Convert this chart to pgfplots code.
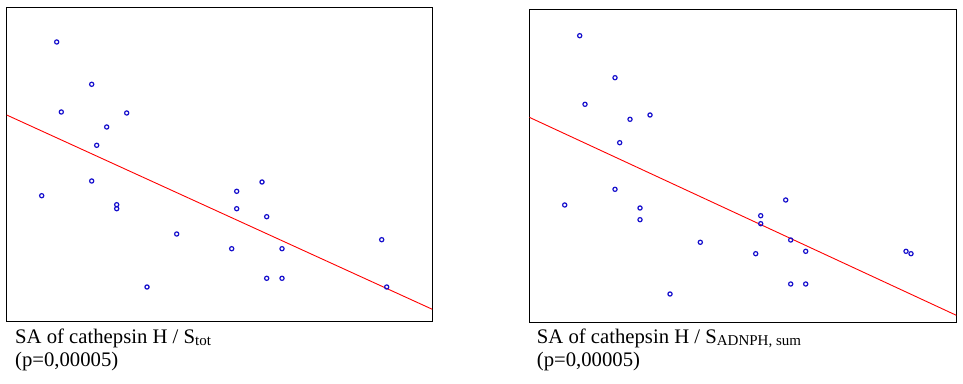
\documentclass[border=0pt]{standalone}
\usepackage{fontspec}
\setmainfont{Liberation Serif}
\usepackage{pgfplots}
\pgfplotsset{compat=1.18}
\definecolor{mblue}{rgb}{0.08,0.05,0.8}
\newcommand\sub[1]{\raisebox{-2.5pt}{\fontsize{15}{15}\selectfont #1}}
\begin{document}
\begin{tikzpicture}[x=1pt,y=1pt]
\useasboundingbox (0,0) rectangle (963,383);
\pgfplotsset{panel/.style={anchor=south west, scale only axis, xmin=0, ymin=0, ticks=none, axis line style={line width=1pt}, clip=true}}
\begin{axis}[panel, at={(6.7pt,62pt)}, width=425.6pt, height=313.7pt, xmax=425.6, ymax=313.7]
\addplot[only marks, mark=o, mark size=2.1pt, mark options={line width=1.2pt}, color=mblue] coordinates {
(50,279) (85,236.7) (54.6,209) (120,208) (100,194) (90,175.7) (85,140) (35,125.3)
(110,116.3) (110,112.3) (170,87) (140.3,34) (255.3,139) (230,129.7) (230,112.3)
(260,104.3) (225,72.3) (275.3,72.3) (260,42.7) (275.3,42.7) (375,81.3) (380,34)};
\addplot[red, line width=0.9pt] coordinates {(0,206) (425.6,11.7)};
\end{axis}
\begin{axis}[panel, at={(529.3pt,61pt)}, width=427pt, height=312.7pt, xmax=427, ymax=312.7]
\addplot[only marks, mark=o, mark size=2.1pt, mark options={line width=1.2pt}, color=mblue] coordinates {
(50.4,286.3) (85.7,244.3) (55.7,217.7) (120.7,207) (100.7,202.7) (90.4,179.3)
(85.7,132.7) (35.4,117) (110.7,114) (110.7,102.3) (171,79.7) (140.7,28)
(256.4,122) (231.4,106.3) (231.4,98.3) (261.4,82) (226.4,68.3) (276.4,70.7)
(261.4,38) (276.4,38) (376.7,70.7) (381.7,68.3)};
\addplot[red, line width=0.9pt] coordinates {(0,204.7) (427,6.7)};
\end{axis}
\begin{scope}[every node/.style={anchor=base west, inner sep=0pt, font=\fontsize{20.7}{24}\selectfont}]
\node at (15,39.7) {SA of cathepsin H / S\sub{tot}};
\node at (15,17) {(p=0,00005)};
\node at (536.7,39.7) {SA of cathepsin H / S\sub{ADNPH, sum}};
\node at (536.7,17) {(p=0,00005)};
\end{scope}
\end{tikzpicture}
\end{document}
